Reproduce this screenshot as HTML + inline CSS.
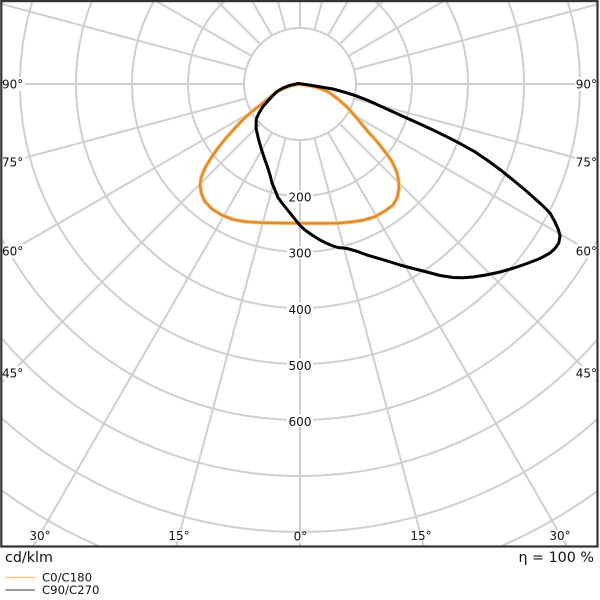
<!DOCTYPE html>
<html>
<head>
<meta charset="utf-8">
<style>
html,body{margin:0;padding:0;background:#fff;width:600px;height:600px;overflow:hidden;}
svg{display:block;}
text{font-family:"DejaVu Sans","Liberation Sans",sans-serif;fill:#111;}
</style>
</head>
<body>
<svg width="600" height="600" viewBox="0 0 600 600" xmlns="http://www.w3.org/2000/svg">
<defs>
<clipPath id="fr"><rect x="2" y="2" width="595" height="544"/></clipPath>
</defs>
<rect x="0" y="0" width="600" height="600" fill="#fff"/>
<g clip-path="url(#fr)">
  <g transform="translate(300,84)" stroke="#cfcfcf" stroke-width="2" fill="none">
    <circle r="56"/><circle r="112"/><circle r="168"/><circle r="224"/><circle r="280"/>
    <circle r="336"/><circle r="392"/><circle r="448"/><circle r="504"/><circle r="560"/><circle r="616"/>
    <line x1="0" y1="56" x2="0" y2="800" transform="rotate(0)"/>
    <line x1="0" y1="56" x2="0" y2="800" transform="rotate(15)"/>
    <line x1="0" y1="56" x2="0" y2="800" transform="rotate(30)"/>
    <line x1="0" y1="56" x2="0" y2="800" transform="rotate(45)"/>
    <line x1="0" y1="56" x2="0" y2="800" transform="rotate(60)"/>
    <line x1="0" y1="56" x2="0" y2="800" transform="rotate(75)"/>
    <line x1="0" y1="56" x2="0" y2="800" transform="rotate(90)"/>
    <line x1="0" y1="56" x2="0" y2="800" transform="rotate(105)"/>
    <line x1="0" y1="56" x2="0" y2="800" transform="rotate(120)"/>
    <line x1="0" y1="56" x2="0" y2="800" transform="rotate(135)"/>
    <line x1="0" y1="56" x2="0" y2="800" transform="rotate(150)"/>
    <line x1="0" y1="56" x2="0" y2="800" transform="rotate(165)"/>
    <line x1="0" y1="56" x2="0" y2="800" transform="rotate(180)"/>
    <line x1="0" y1="56" x2="0" y2="800" transform="rotate(195)"/>
    <line x1="0" y1="56" x2="0" y2="800" transform="rotate(210)"/>
    <line x1="0" y1="56" x2="0" y2="800" transform="rotate(225)"/>
    <line x1="0" y1="56" x2="0" y2="800" transform="rotate(240)"/>
    <line x1="0" y1="56" x2="0" y2="800" transform="rotate(255)"/>
    <line x1="0" y1="56" x2="0" y2="800" transform="rotate(270)"/>
    <line x1="0" y1="56" x2="0" y2="800" transform="rotate(285)"/>
    <line x1="0" y1="56" x2="0" y2="800" transform="rotate(300)"/>
    <line x1="0" y1="56" x2="0" y2="800" transform="rotate(315)"/>
    <line x1="0" y1="56" x2="0" y2="800" transform="rotate(330)"/>
    <line x1="0" y1="56" x2="0" y2="800" transform="rotate(345)"/>
  </g>

  <!-- label backgrounds -->
  <g fill="#fff">
    <rect x="2" y="77" width="23" height="14"/>
    <rect x="2" y="155" width="23" height="14"/>
    <rect x="2" y="244" width="23" height="14"/>
    <rect x="2" y="366" width="23" height="14"/>
    <rect x="575" y="77" width="22" height="14"/>
    <rect x="575" y="155" width="22" height="14"/>
    <rect x="575" y="244" width="22" height="14"/>
    <rect x="575" y="366" width="22" height="14"/>
    <rect x="28" y="530" width="24" height="11"/>
    <rect x="167" y="530" width="24" height="11"/>
    <rect x="292" y="533" width="17" height="10"/>
    <rect x="409" y="530" width="24" height="11"/>
    <rect x="548" y="530" width="24" height="11"/>
    <rect x="287" y="190" width="26" height="13"/>
    <rect x="287" y="246" width="26" height="13"/>
    <rect x="287" y="302" width="26" height="13"/>
    <rect x="287" y="358" width="26" height="13"/>
    <rect x="287" y="414" width="26" height="13"/>
  </g>

  <!-- C0/C180 orange -->
  <g fill="none" stroke-linejoin="round" stroke-linecap="round">
  <polyline stroke="#f8cf95" stroke-width="4.2" points="300,84 290,86 281,89.5 275,93 266.7,100 251.7,111.7 243,119.5 235,128 226,138 218,148 211,158 205,168 201.5,176.5 200,185 201.5,194 205,201.7 212,209 221.7,215 233,219.5 245,221.7 262,222.7 278,223 301.7,223.3 322,223.3 338,223.2 351.7,222 364,220 375,216.7 385,211 393,205 397.5,197 399,188 398.5,180 396.7,171.7 392,161.5 385,151.7 377,141.5 368,131.7 358,119.5 348,108 338,99 328,91.7 316,87 305,85 300,84"/>
  <polyline stroke="#e08a2c" stroke-width="2.4" points="300,84 290,86 281,89.5 275,93 266.7,100 251.7,111.7 243,119.5 235,128 226,138 218,148 211,158 205,168 201.5,176.5 200,185 201.5,194 205,201.7 212,209 221.7,215 233,219.5 245,221.7 262,222.7 278,223 301.7,223.3 322,223.3 338,223.2 351.7,222 364,220 375,216.7 385,211 393,205 397.5,197 399,188 398.5,180 396.7,171.7 392,161.5 385,151.7 377,141.5 368,131.7 358,119.5 348,108 338,99 328,91.7 316,87 305,85 300,84"/>

  <!-- C90/C270 black -->
  <polyline stroke="#000" stroke-width="3" points="298,83.5 308,84.8 318,86.5 333,89 345,92.3 356,95.8 367,100 378,105 390,110.5 405,117.3 420,124 433,130 447,136.8 460,143.5 474,151.3 487,160 500,169.5 513,180 524,189 533,197 542,205 550,213 555,222 558.5,230 560,236 558.8,243 555,248.5 550,253 540,258.5 527,263.5 514,268 500,272 486,275 473,277 463,277.8 453,277.5 440,275.5 427,272 413,268.5 400,265 384,260 367,255 356,251 347,248.5 338,247.5 333,246 326,243 320,240 312,235 305,230 300,225.5 294,218 288,210.5 282,203 278,197.5 275,190 272,183 270,175 267.5,167 265,160 261,148 258.3,138.3 256,128 256.3,119 259,113 263,106.5 267,102 272,96.5 277,91.5 283,88 290,85.3 298,83.5"/>
  </g>

  <!-- angle labels -->
  <g font-size="12">
    <text x="2" y="88.4">90°</text>
    <text x="2" y="166.4">75°</text>
    <text x="2" y="255.4">60°</text>
    <text x="2" y="377.4">45°</text>
    <text x="597" y="88.4" text-anchor="end">90°</text>
    <text x="597" y="166.4" text-anchor="end">75°</text>
    <text x="597" y="255.4" text-anchor="end">60°</text>
    <text x="597" y="377.4" text-anchor="end">45°</text>
    <text x="40" y="540" text-anchor="middle">30°</text>
    <text x="179" y="540" text-anchor="middle">15°</text>
    <text x="300.5" y="540.4" text-anchor="middle">0°</text>
    <text x="421" y="540" text-anchor="middle">15°</text>
    <text x="560" y="540" text-anchor="middle">30°</text>
    <text x="300" y="201.6" text-anchor="middle">200</text>
    <text x="300" y="257.6" text-anchor="middle">300</text>
    <text x="300" y="314" text-anchor="middle">400</text>
    <text x="300" y="370" text-anchor="middle">500</text>
    <text x="300" y="426" text-anchor="middle">600</text>
  </g>
</g>

<!-- frame -->
<rect x="1.3" y="1.1" width="596.2" height="545.4" fill="none" stroke="#333" stroke-width="2.2"/>

<!-- footer -->
<text x="5" y="562" font-size="14.3">cd/klm</text>
<text x="594" y="562" font-size="14.3" text-anchor="end">η = 100 %</text>

<line x1="5.5" y1="577.5" x2="35" y2="577.5" stroke="#f3c88f" stroke-width="1.5"/>
<line x1="5.5" y1="590" x2="35" y2="590" stroke="#7a7a7a" stroke-width="1.5"/>
<text x="42" y="581.5" font-size="11.7">C0/C180</text>
<text x="42" y="594" font-size="11.7">C90/C270</text>
</svg>
</body>
</html>
